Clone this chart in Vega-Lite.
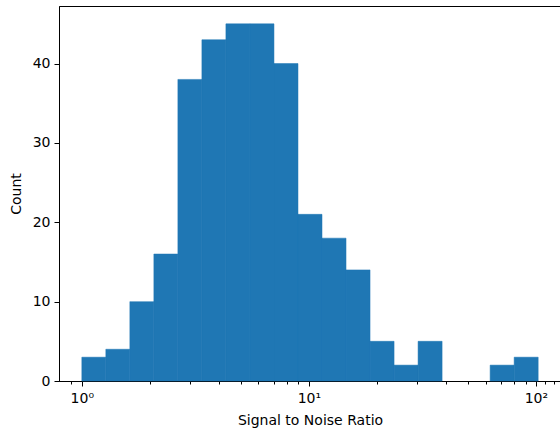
{
  "$schema": "https://vega.github.io/schema/vega-lite/v6.json",
  "width": 502,
  "height": 375,
  "autosize": {"type": "none"},
  "padding": {"left": 59, "top": 6, "right": 0, "bottom": 49},
  "background": "white",
  "config": {
    "view": {"stroke": "#000000", "strokeWidth": 1},
    "font": "DejaVu Sans",
    "axis": {
      "domainColor": "#000000",
      "tickColor": "#000000",
      "labelColor": "#000000",
      "titleColor": "#000000",
      "labelFont": "DejaVu Sans",
      "titleFont": "DejaVu Sans",
      "labelFontSize": 14,
      "titleFontSize": 14,
      "titleFontWeight": "normal",
      "grid": false
    }
  },
  "data": {
    "values": [
      {"lo": 1.0, "hi": 1.2757, "count": 3},
      {"lo": 1.2757, "hi": 1.6275, "count": 4},
      {"lo": 1.6275, "hi": 2.0763, "count": 10},
      {"lo": 2.0763, "hi": 2.6489, "count": 16},
      {"lo": 2.6489, "hi": 3.3793, "count": 38},
      {"lo": 3.3793, "hi": 4.3111, "count": 43},
      {"lo": 4.3111, "hi": 5.502, "count": 45},
      {"lo": 5.502, "hi": 7.0197, "count": 45},
      {"lo": 7.0197, "hi": 8.956, "count": 40},
      {"lo": 8.956, "hi": 11.426, "count": 21},
      {"lo": 11.426, "hi": 14.577, "count": 18},
      {"lo": 14.577, "hi": 18.598, "count": 14},
      {"lo": 18.598, "hi": 23.728, "count": 5},
      {"lo": 23.728, "hi": 30.273, "count": 2},
      {"lo": 30.273, "hi": 38.62, "count": 5},
      {"lo": 38.62, "hi": 49.27, "count": 0},
      {"lo": 49.27, "hi": 62.87, "count": 0},
      {"lo": 62.87, "hi": 80.21, "count": 2},
      {"lo": 80.21, "hi": 102.33, "count": 3}
    ]
  },
  "mark": {"type": "rect", "color": "#1f77b4", "stroke": "#1f77b4"},
  "encoding": {
    "x": {
      "field": "lo",
      "type": "quantitative",
      "scale": {"type": "log", "domain": [0.7933, 128.99], "nice": false},
      "axis": {
        "title": "Signal to Noise Ratio",
        "values": [0.9, 1, 2, 3, 4, 5, 6, 7, 8, 9, 10, 20, 30, 40, 50, 60, 70, 80, 90, 100, 110, 120],
        "labelExpr": "datum.value == 1 ? '10⁰' : datum.value == 10 ? '10¹' : datum.value == 100 ? '10²' : ''",
        "labelOverlap": false,
        "labelPadding": 5,
        "tickSize": {"condition": {"test": "datum.value == 1 || datum.value == 10 || datum.value == 100", "value": 5}, "value": 3},
        "titlePadding": 8
      }
    },
    "x2": {"field": "hi"},
    "y": {
      "field": "count",
      "type": "quantitative",
      "scale": {"domain": [0, 47.25], "nice": false},
      "axis": {
        "title": "Count",
        "values": [0, 10, 20, 30, 40],
        "tickSize": 5,
        "labelPadding": 4,
        "titlePadding": 9
      }
    },
    "y2": {"datum": 0},
    "strokeWidth": {"condition": {"test": "datum.count == 0", "value": 0}, "value": 0.5}
  }
}
